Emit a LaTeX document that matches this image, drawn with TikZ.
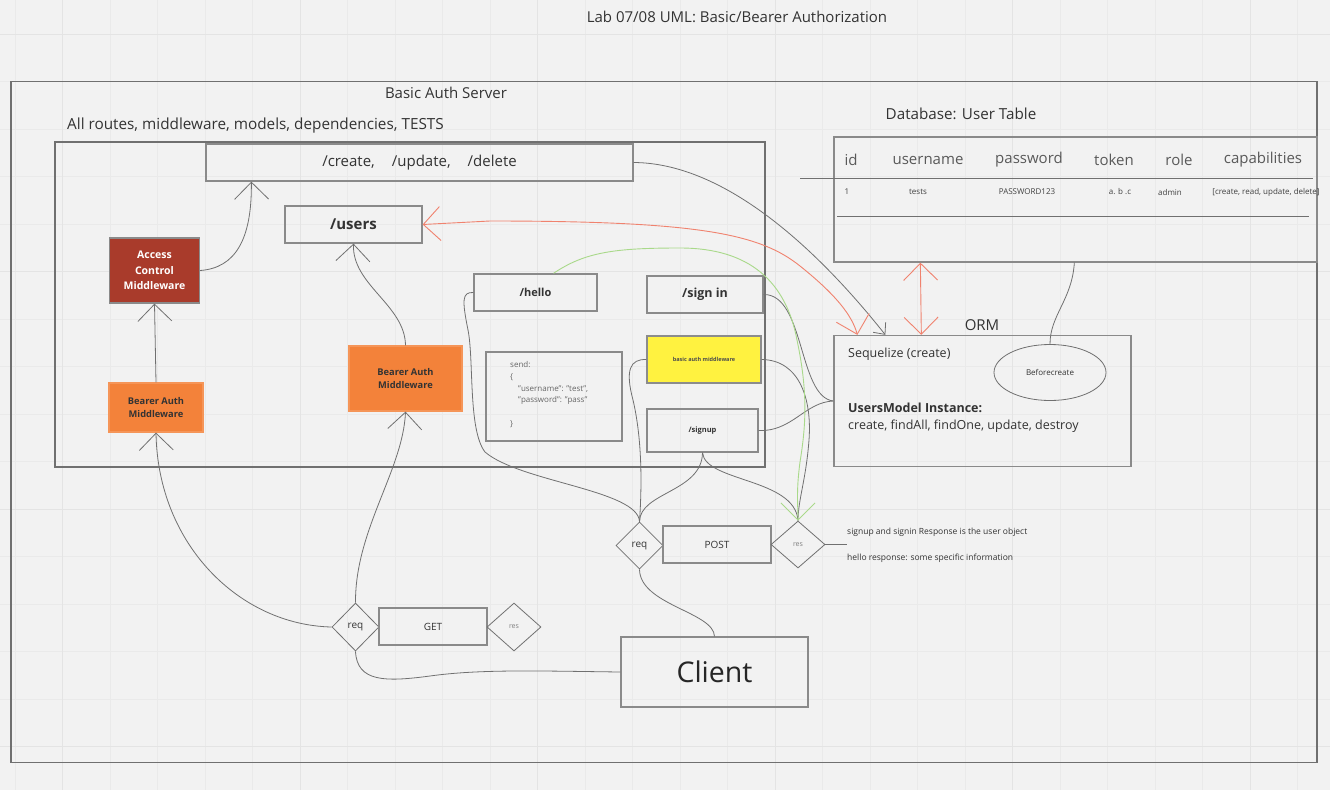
\documentclass[tikz,border=0pt]{standalone}
\usepackage{fontspec}
\setmainfont{Open Sans}
\usetikzlibrary{arrows.meta,shapes.geometric}
\definecolor{bgc}{HTML}{F2F2F2}
\definecolor{gridminor}{HTML}{EAEAEA}
\definecolor{gridmajor}{HTML}{E4E4E4}
\definecolor{boxline}{HTML}{8A8A8A}
\definecolor{conncol}{HTML}{707070}
\definecolor{txt}{HTML}{333333}
\definecolor{accred}{HTML}{A93B2B}
\definecolor{bearor}{HTML}{F3823A}
\definecolor{yel}{HTML}{FFF240}
\definecolor{redline}{HTML}{F0826E}
\definecolor{greenline}{HTML}{A9D98A}
\newcommand\fsz[2]{\fontsize{#1}{#2}\selectfont}
\tikzset{
  box/.style={draw=boxline, line width=1.3pt, inner sep=0pt, text=txt, align=center},
  dia/.style={draw=conncol, line width=0.8pt, diamond, inner sep=0pt, text=txt},
  lbl/.style={inner sep=0pt, text=txt},
  conn/.style={draw=conncol, line width=0.8pt},
  barbtip/.style={-{Straight Barb[length=17pt,width=34pt]}},
  smallbarb/.style={-{Straight Barb[length=9pt,width=16pt]}},
  bothbarb/.style={{Straight Barb[length=17pt,width=34pt]}-{Straight Barb[length=17pt,width=34pt]}},
}
\begin{document}
\begin{tikzpicture}[x=1pt,y=-1pt]
\useasboundingbox (0,0) rectangle (1330,790);
\fill[bgc] (0,0) rectangle (1330,790);
% grid
\foreach \i in {0,...,27} {\draw[gridminor, line width=0.8pt] (15+47.5*\i,0) -- (15+47.5*\i,790);}
\foreach \j in {0,...,16} {\draw[gridminor, line width=0.8pt] (0,34.2+47.5*\j) -- (1330,34.2+47.5*\j);}
\foreach \i in {0,...,5} {\draw[gridmajor, line width=0.8pt] (62.7+237.5*\i,0) -- (62.7+237.5*\i,790);}
\foreach \j in {0,...,3} {\draw[gridmajor, line width=0.8pt] (0,34.2+237.5*\j) -- (1330,34.2+237.5*\j);}

% title and frames
\node[lbl, font=\fsz{15}{18}] (title) at (737,17) {Lab 07/08 UML: Basic/Bearer Authorization};
\node[draw=conncol, line width=1.3pt, minimum width=1306pt, minimum height=681pt, inner sep=0pt] (server) at (664,422) {};
\node[lbl, font=\fsz{15}{18}] (serverlbl) at (446,93) {Basic Auth Server};
\node[lbl, font=\fsz{15.3}{18}, anchor=west] (innerlbl) at (67,126) {All routes, middleware, models, dependencies, TESTS};
\node[draw=conncol, line width=1.3pt, minimum width=710pt, minimum height=325pt, inner sep=0pt] (inner) at (410,304.5) {};

% route boxes
\node[box, minimum width=427pt, minimum height=37pt, font=\fsz{15}{18}] (create) at (419.5,162.5) {/create,\hspace{17pt}/update,\hspace{17pt}/delete};
\node[box, minimum width=137pt, minimum height=37pt, font=\bfseries\fsz{15}{18}] (users) at (353.5,224.5) {/users};
\node[box, fill=accred, text=white, minimum width=90pt, minimum height=65pt, font=\bfseries\fsz{10.5}{15.5}] (acm) at (154.5,270.5) {Access\\Control\\Middleware};
\node[box, draw=bearor!85!white, fill=bearor, text=black!80, minimum width=94pt, minimum height=49pt, font=\bfseries\fsz{9.3}{13}] (bearL) at (156,407.5) {Bearer Auth\\Middleware};
\node[box, draw=bearor!85!white, fill=bearor, text=black!80, minimum width=113pt, minimum height=65pt, font=\bfseries\fsz{9.3}{13}] (bearM) at (405.5,378.5) {Bearer Auth\\Middleware};
\node[box, minimum width=123pt, minimum height=37pt, font=\bfseries\fsz{11}{13}] (hello) at (535.5,292.5) {/hello};
\node[box, minimum width=116pt, minimum height=37pt, font=\bfseries\fsz{12.5}{15}] (signin) at (705,294.5) {/sign in};
\node[box, minimum width=136pt, minimum height=89pt] (send) at (554,396.5) {};
\node[lbl, anchor=west, text=black!60, font=\fsz{8}{10}] (sendA) at (510,365) {send:};
\node[lbl, anchor=west, text=black!60, font=\fsz{8}{10}] (sendB) at (510,377) {\{};
\node[lbl, anchor=west, text=black!60, font=\fsz{8}{10}] (sendC) at (518,389) {"username": "test",};
\node[lbl, anchor=west, text=black!60, font=\fsz{8}{10}] (sendD) at (518,400) {"password": "pass"};
\node[lbl, anchor=west, text=black!60, font=\fsz{8}{10}] (sendE) at (510,424) {\}};
\node[box, fill=yel, draw=black!45, minimum width=114pt, minimum height=47pt, text=black!70, font=\bfseries\fsz{5.5}{7}] (basic) at (704,359.5) {basic auth middleware};
\node[box, minimum width=111pt, minimum height=43pt, font=\bfseries\fsz{7.5}{9}] (signup) at (702.5,430.5) {/signup};

% database table
\node[lbl, font=\fsz{15.2}{18}] (dblbl) at (961,114) {Database: User Table};
\node[box, minimum width=483pt, minimum height=125pt] (db) at (1075.5,199.5) {};
\draw[conncol, line width=1.4pt] (800,178.5) -- (1313,178.5);
\draw[conncol, line width=0.9pt] (837,216.5) -- (1309,216.5);
\foreach \n/\x/\t in {h1/851/id, h2/928/username, h3/1029/password, h4/1114/token, h5/1179/role, h6/1263/capabilities}
  {\node[lbl, text=black!65, font=\fsz{15}{18}] (\n) at (\x,160) {\t};}
\foreach \n/\x/\t in {r1/847/1, r2/918/tests, r3/1027/PASSWORD123, r4/1120/a. b .c, r5/1170/admin}
  {\node[lbl, text=black!75, font=\fsz{8}{10}] (\n) at (\x,192) {\t};}
\node[lbl, text=black!75, font=\fsz{8}{10}] (r6) at (1266,192) {[create, read, update, delete]};

% ORM
\node[lbl, font=\fsz{15}{18}] (ormlbl) at (982,325) {ORM};
\node[box, minimum width=297pt, minimum height=131pt] (orm) at (982.5,401) {};
\node[lbl, anchor=west, font=\fsz{12.5}{15}] (seq) at (848,354) {Sequelize (create)};
\node[draw=conncol, line width=0.8pt, ellipse, minimum width=112pt, minimum height=56pt, inner sep=0pt, text=txt, font=\fsz{8}{10}] (befc) at (1050,372.5) {Beforecreate};
\node[lbl, anchor=west, font=\bfseries\fsz{12.5}{15}] (umi) at (848,408) {UsersModel Instance:};
\node[lbl, anchor=west, font=\fsz{12.5}{15}] (ops) at (848,426.5) {create, findAll, findOne, update, destroy};

% request/response groups
\node[dia, minimum width=47pt, minimum height=47pt, font=\fsz{10}{12}] (reqP) at (639.5,545.5) {req};
\node[box, line width=1.1pt, minimum width=108pt, minimum height=37pt, font=\fsz{10}{12}] (post) at (717,544.5) {POST};
\node[dia, minimum width=54pt, minimum height=47pt, text=black!50, font=\fsz{7}{9}] (resP) at (798,544.5) {res};
\coordinate (resTail) at (847,544.5);
\node[lbl, anchor=west, font=\fsz{8.5}{10}] (note1) at (847,532) {signup and signin Response is the user object};
\node[lbl, anchor=west, font=\fsz{8.5}{10}] (note2) at (847,558.5) {hello response: some specific information};

\node[dia, minimum width=47pt, minimum height=48pt, font=\fsz{10}{12}] (reqG) at (355.5,627) {req};
\node[box, line width=1.1pt, minimum width=108pt, minimum height=37pt, font=\fsz{10}{12}] (get) at (433,626.5) {GET};
\node[dia, minimum width=54pt, minimum height=48pt, text=black!50, font=\fsz{7}{9}] (resG) at (514,627) {res};
\node[box, line width=1.1pt, minimum width=187pt, minimum height=70pt, text=black!85, font=\fsz{28.5}{32}] (client) at (714.5,672) {Client};

% gray connectors
\draw[conn, barbtip] (acm.east) .. controls (235,268) and (252,240) .. ([xshift=46pt]create.south west);
\draw[conn, barbtip] (bearL.north) -- (acm.south);
\draw[conn, barbtip] (bearM.north) .. controls (405,305) and (352,285) .. (users.south);
\draw[conn, barbtip] (reqG.north) .. controls (355,530) and (403,470) .. (bearM.south);
\draw[conn, barbtip] (reqG.west) .. controls (240,625) and (158,545) .. (bearL.south);
\draw[conn] (reqG.south) .. controls (357,682) and (385,682) .. (430,676) .. controls (480,669) and (540,671) .. (client.west);
\draw[conn] (client.north) .. controls (714,612) and (640,605) .. (reqP.south);
\draw[conn] (reqP.north) .. controls (638,490) and (520,482) .. (485,452) .. controls (468,430) and (474,360) .. (468,330) .. controls (462,300) and (462,292) .. (hello.west);
\draw[conn] (reqP.north) .. controls (643,470) and (640,430) .. (633,400) .. controls (625,370) and (630,359) .. (basic.west);
\draw[conn] (reqP.north) .. controls (640,492) and (702,492) .. (signup.south);
\draw[conn] (signup.south) .. controls (705,482) and (795,478) .. (resP.north);
\draw[conn] (basic.east) .. controls (800,360) and (812,400) .. (809,440) .. controls (806,480) and (798,500) .. (resP.north);
\draw[conn] (signup.east) .. controls (792,432) and (805,402) .. (orm.west);
\draw[conn] (signin.east) .. controls (805,294) and (798,397) .. (orm.west);
\draw[conn] (resP.east) -- (resTail);
\draw[conn, smallbarb] (create.east) .. controls (720,163) and (810,240) .. ([xshift=52pt]orm.north west);
\draw[conn] ([xshift=241pt]db.south west) .. controls (1072,300) and (1050,315) .. (befc.north);

% red connectors
\draw[redline, line width=0.9pt, bothbarb] (users.east) -- (490,221) .. controls (700,221) and (760,234) .. (800,266) .. controls (835,294) and (852,315) .. ([xshift=24pt]orm.north west);
\draw[redline, line width=0.9pt, bothbarb] ([xshift=87pt]db.south west) -- ([xshift=88pt]orm.north west);

% green connector
\draw[greenline, line width=0.9pt, barbtip] ([xshift=18pt]hello.north) .. controls (585,252) and (615,248) .. (680,248) .. controls (750,248) and (786,282) .. (797,340) .. controls (808,392) and (806,425) .. (800,462) .. controls (796,492) and (798,505) .. (resP.north);
\end{tikzpicture}
\end{document}
